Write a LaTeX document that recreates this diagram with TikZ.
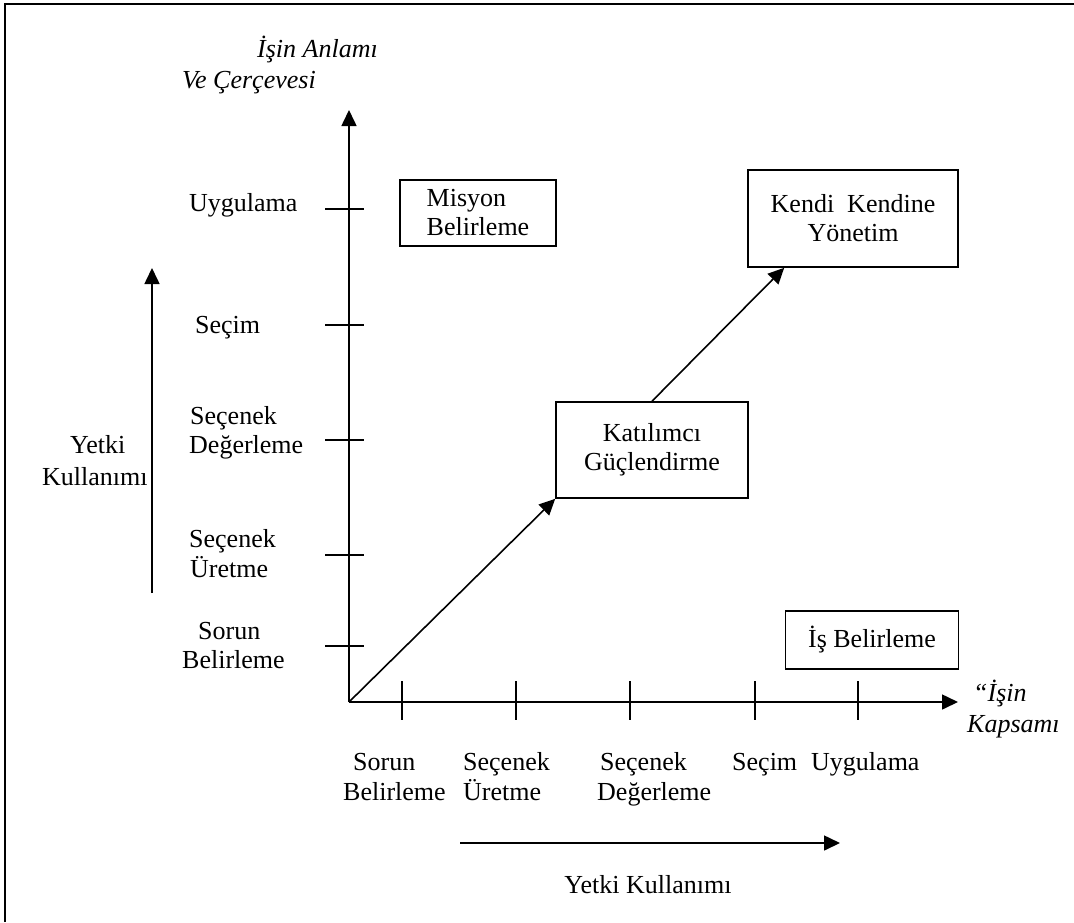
\documentclass[tikz,border=0pt]{standalone}
\usepackage{fontspec}
\setmainfont{Liberation Serif}
\usetikzlibrary{arrows.meta,calc}
\begin{document}
\begin{tikzpicture}[x=1pt,y=-1pt,
  every node/.style={font=\fontsize{26}{29}\selectfont, inner sep=0pt},
  ln/.style={line width=1.6pt},
  arr/.style={ln,-{Triangle[length=16pt,width=15pt]}},
  box/.style={draw, line width=1.6pt, align=center},
  lbl/.style={anchor=base west},
  ilbl/.style={anchor=base west, font=\fontsize{26}{29}\selectfont\itshape}]
\useasboundingbox (0,0) rectangle (1074,922);
% frame (top and left edges)
\draw[ln] (5,922) -- (5,4) -- (1074,4);
% axes
\coordinate (O) at (349,702);
\coordinate (Ytop) at (349,110);
\coordinate (Xend) at (958,702);
\draw[arr] (O) -- (Ytop);
\draw[arr] (O) -- (Xend);
% ticks
\foreach \y in {209,325,440,555,646} \draw[ln] (325,\y) -- (364,\y);
\foreach \x in {402,516,630,755,858} \draw[ln] (\x,681) -- (\x,720);
% axis titles
\node[ilbl] (ya1) at (257,57) {İşin Anlamı};
\node[ilbl] (ya2) at (182,88) {Ve Çerçevesi};
\node[ilbl] (xa1) at (973,701) {“İşin};
\node[ilbl] (xa2) at (967,732) {Kapsamı};
% y labels
\node[lbl] (yu) at (189,211) {Uygulama};
\node[lbl] (ys) at (195,333) {Seçim};
\node[lbl] (yd1) at (190,424) {Seçenek};
\node[lbl] (yd2) at (189,453) {Değerleme};
\node[lbl] (ye1) at (189,547) {Seçenek};
\node[lbl] (ye2) at (190,577) {Üretme};
\node[lbl] (yb1) at (198,639) {Sorun};
\node[lbl] (yb2) at (182,668) {Belirleme};
% left side label and arrow
\node[lbl] (yk1) at (70,453) {Yetki};
\node[lbl] (yk2) at (42,485) {Kullanımı};
\coordinate (La) at (152,593);
\coordinate (Lb) at (152,268);
\draw[arr] (La) -- (Lb);
% x labels
\node[lbl] (xb1) at (353,770) {Sorun};
\node[lbl] (xb2) at (343,800) {Belirleme};
\node[lbl] (xe1) at (463,770) {Seçenek};
\node[lbl] (xe2) at (463,800) {Üretme};
\node[lbl] (xd1) at (600,770) {Seçenek};
\node[lbl] (xd2) at (597,800) {Değerleme};
\node[lbl] (xs) at (732,770) {Seçim};
\node[lbl] (xu) at (811,770) {Uygulama};
% bottom arrow and label
\coordinate (Ba) at (460,843);
\coordinate (Bb) at (840,843);
\draw[arr] (Ba) -- (Bb);
\node[anchor=base] (bk) at (648,893) {Yetki Kullanımı};
% boxes
\node[box, align=left, minimum width=156pt, minimum height=66pt] (mis) at (478,213) {Misyon\\Belirleme};
\node[box, minimum width=210pt, minimum height=97pt] (ken) at (853,218.5) {Kendi~~Kendine\\Yönetim};
\node[box, minimum width=192pt, minimum height=96pt] (kat) at (652,450) {Katılımcı\\Güçlendirme};
\node[box, minimum width=173pt, minimum height=58pt] (is) at (872,640) {İş Belirleme};
% arrows
\draw[arr] (O) -- (kat.south west);
\draw[arr] (kat.north) -- ($(ken.south west)+(37,0)$);
\end{tikzpicture}
\end{document}
